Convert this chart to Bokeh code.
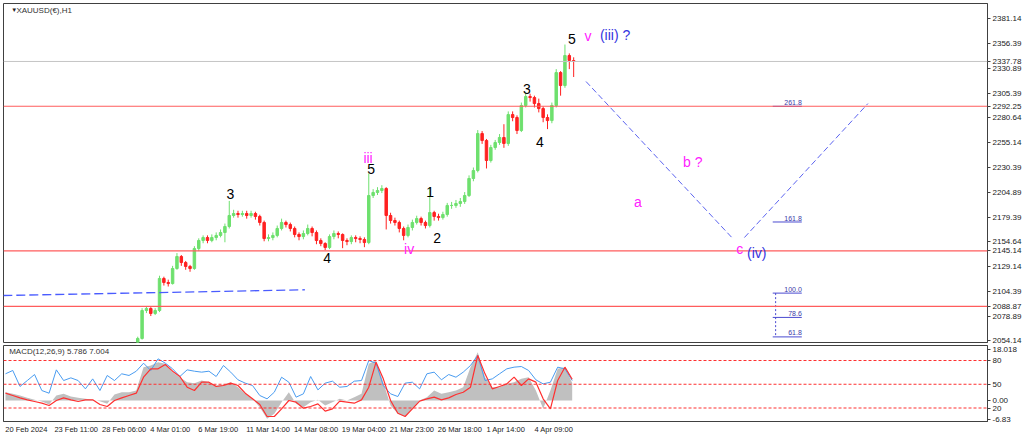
from bokeh.plotting import figure
from bokeh.layouts import column
from bokeh.models import (Range1d, LinearAxis, FixedTicker, PrintfTickFormatter,
                          Span, Label, ColumnDataSource)
from bokeh.embed import file_html
from bokeh.resources import INLINE

# ---------------- data ----------------
# H1 candles sampled every 6 bars, starting at bar 182 (bar 0 = 20 Feb 2024 00:00)
CANDLE_START = 182
CANDLE_STEP = 6
first_open = 2052.0
closes = [2056.2, 2084.6, 2086.7, 2081.6, 2084.6, 2117.2, 2113.1, 2112.0, 2127.3, 2139.5,
          2133.4, 2129.4, 2127.3, 2147.6, 2155.8, 2158.8, 2155.8, 2158.8, 2160.9, 2163.9,
          2170.0, 2181.2, 2183.2, 2182.2, 2183.2, 2181.2, 2183.2, 2180.2, 2174.1, 2157.8,
          2158.8, 2160.9, 2168.0, 2174.1, 2172.0, 2168.0, 2161.9, 2159.8, 2162.9, 2168.0,
          2163.9, 2155.8, 2152.7, 2148.7, 2159.8, 2162.9, 2161.9, 2155.8, 2154.7, 2158.8,
          2157.8, 2156.8, 2153.7, 2201.5, 2204.6, 2206.6, 2208.6, 2181.2, 2176.1, 2174.1,
          2168.0, 2160.9, 2169.0, 2174.1, 2178.1, 2174.1, 2171.0, 2184.2, 2180.2, 2179.1,
          2182.2, 2191.4, 2191.4, 2193.4, 2195.4, 2201.5, 2218.8, 2226.9, 2264.5, 2257.4,
          2237.1, 2250.3, 2255.4, 2260.5, 2254.4, 2283.8, 2280.8, 2267.6, 2293.0, 2302.1,
          2301.1, 2295.0, 2289.9, 2280.8, 2277.7, 2293.0, 2326.5, 2313.3, 2343.8, 2338.7,
          2337.8]
highs = [2058, 2087, 2089, 2088, 2087, 2120, 2119, 2116, 2130, 2143,
         2141, 2135, 2131, 2150, 2158, 2161, 2161, 2162, 2164, 2167,
         2173, 2196, 2187, 2186, 2186, 2186, 2186, 2185, 2182, 2176,
         2162, 2164, 2171, 2178, 2176, 2174, 2170, 2164, 2166, 2172,
         2170, 2166, 2158, 2154, 2162, 2166, 2165, 2163, 2158, 2161,
         2161, 2160, 2159, 2224, 2208, 2210, 2212, 2210, 2184, 2179,
         2176, 2170, 2172, 2177, 2181, 2180, 2176, 2210, 2186, 2183,
         2185, 2194, 2195, 2197, 2199, 2205, 2222, 2230, 2268, 2267,
         2259, 2253, 2258, 2264, 2274, 2287, 2287, 2283, 2296, 2306,
         2305, 2303, 2300, 2292, 2284, 2296, 2330, 2328, 2355, 2346,
         2342]
lows = [2050, 2055, 2082, 2079, 2080, 2083, 2110, 2109, 2111, 2126,
        2130, 2126, 2124, 2126, 2145, 2153, 2153, 2154, 2156, 2159,
        2154, 2168, 2179, 2179, 2180, 2178, 2179, 2177, 2171, 2155,
        2155, 2156, 2159, 2166, 2169, 2165, 2159, 2156, 2157, 2161,
        2160, 2152, 2150, 2146, 2147, 2157, 2158, 2148, 2151, 2152,
        2154, 2153, 2149, 2152, 2199, 2202, 2204, 2167, 2173, 2171,
        2164, 2156, 2159, 2166, 2172, 2171, 2168, 2169, 2176, 2176,
        2177, 2180, 2188, 2189, 2190, 2193, 2200, 2216, 2225, 2254,
        2229, 2235, 2248, 2253, 2250, 2252, 2277, 2264, 2266, 2291,
        2297, 2291, 2286, 2276, 2269, 2275, 2291, 2303, 2311, 2330,
        2322]

# MACD panel series sampled every 10 bars from bar 0
MACD_STEP = 10
macd_hist = [2.75, 2.21, 1.67, 0.90, 0.25, -0.30, -1.28, 1.67, 2.21, 1.34,
             0.90, 0.58, 0.25, -0.19, -1.06, 2.00, 2.75, 2.75, 3.30, 10.93,
             11.48, 12.57, 12.02, 9.30, 7.66, 6.03, 5.70, 6.57, 6.03, 4.94,
             5.26, 6.03, 4.39, 2.21, 0.58, -2.15, -5.97, -4.33, -0.52, 2.75,
             -1.06, -2.15, -0.52, 0.25, -1.60, -0.52, 0.58, 0.03, 1.12, 2.21,
             12.02, 13.11, 6.03, -1.60, -4.33, -5.20, -2.70, 0.03, 1.12, 3.30,
             2.21, 2.75, 3.30, 4.39, 10.93, 15.84, 7.66, 4.39, 4.39, 5.48,
             6.03, 7.12, 7.66, 3.30, -2.70, 3.30, 10.39, 10.93, 5.79]
macd_signal = [2.43, 1.67, 0.90, 0.25, -0.30, -0.84, -1.60, 0.03, 0.90, 0.25,
               -0.30, 0.25, 0.25, -1.28, -1.93, 0.03, 0.90, 1.67, 2.43, 7.66,
               10.39, 10.39, 11.80, 9.63, 7.88, 4.39, 3.30, 6.03, 6.03, 4.61,
               4.94, 5.70, 4.94, 2.43, 0.58, -1.28, -5.20, -5.20, -2.70, 0.03,
               -0.52, -2.47, -1.93, -1.06, -3.46, -2.70, -0.19, -0.52, -0.84, 0.25,
               4.39, 12.57, 7.12, 0.03, -4.11, -5.20, -2.70, -0.19, 0.58, 1.12,
               0.25, 0.90, 1.99, 2.75, 4.39, 14.75, 8.75, 3.85, 4.61, 5.48,
               7.66, 4.94, 7.12, 6.03, 0.58, -2.70, 6.57, 10.93, 7.00]
osc_line = [63.2, 67.4, 47.2, 54.7, 62.3, 42.1, 38.7, 68.2, 54.7, 58.1,
            54.7, 44.2, 56.8, 42.1, 61.1, 54.7, 63.2, 61.1, 66.5, 76.6,
            67.4, 82.1, 76.6, 69.5, 59.8, 68.2, 66.5, 65.3, 66.5, 59.8,
            73.7, 65.3, 55.6, 51.4, 48.4, 35.8, 31.6, 40.0, 58.9, 52.6,
            33.7, 37.9, 59.8, 42.9, 51.4, 53.9, 46.3, 47.2, 53.9, 54.7,
            80.0, 76.6, 48.4, 37.9, 34.5, 51.4, 52.6, 44.2, 63.2, 65.3,
            55.6, 62.3, 58.9, 65.3, 73.7, 86.3, 54.7, 56.8, 63.2, 69.5,
            71.6, 72.4, 67.4, 55.6, 50.5, 52.6, 71.6, 69.5, 54.7]
osc_levels = [80, 50, 20]
macd_scale_labels = ["18.018", "0.00", "-6.83"]

price_ticks = [2381.14, 2356.39, 2330.89, 2305.39, 2280.64, 2255.14, 2230.39,
               2204.89, 2179.39, 2154.64, 2129.14, 2104.39, 2078.89, 2054.14]
red_levels = [2292.25, 2145.14, 2088.87]
last_price = 2337.78

date_bars = [0, 66, 132, 198, 264, 330, 396, 462, 528, 594, 660, 726]
date_labels = ["20 Feb 2024", "23 Feb 11:00", "28 Feb 06:00", "4 Mar 01:00",
               "6 Mar 19:00", "11 Mar 14:00", "14 Mar 08:00", "19 Mar 04:00",
               "21 Mar 23:00", "26 Mar 18:00", "1 Apr 14:00", "4 Apr 09:00"]

trend_bars = [-3, 412]
trend_prices = [2099.9, 2105.7]
proj_a_bars = [799, 1001]
proj_a_prices = [2317.4, 2157.8]
proj_b_bars = [1017, 1187]
proj_b_prices = [2158.8, 2295.0]

fib_names = ["261.8", "161.8", "100.0", "78.6", "61.8"]
fib_prices = [2292.2, 2174.6, 2102.3, 2077.6, 2057.8]

# ---------------- styling constants ----------------
W = 1024
X0, X1 = -2.75, 1351.6
BARS_PER_PX = 1.375
MACD_LO, MACD_HI = -6.83, 18.018
OSC_LO, OSC_HI = 2.97, 98.95
UP, DOWN = "#6ee06e", "#ff2020"
MAG = "#ff22ff"
WAVEBLUE = "#3535e0"
FONT = "Liberation Sans"
AX = "#404040"

opens = [first_open] + closes[:-1]
bars = [CANDLE_START + CANDLE_STEP * i for i in range(len(closes))]
colors = [UP if c >= o else DOWN for o, c in zip(opens, closes)]
src = ColumnDataSource(dict(x=bars, h=highs, l=lows,
                            top=[max(o, c) for o, c in zip(opens, closes)],
                            bot=[min(o, c) for o, c in zip(opens, closes)],
                            color=colors))


def style_axis(a):
    a.major_label_text_font_size = "8px"
    a.major_label_text_font = FONT
    a.major_label_text_color = "#222222"
    a.major_tick_in = 0
    a.minor_tick_out = 0
    a.minor_tick_in = 0
    a.axis_line_color = AX
    a.major_tick_line_color = AX


p = figure(width=W, height=344, x_range=Range1d(X0, X1), y_range=Range1d(2052.1, 2396.7),
           output_backend="svg", toolbar_location=None, x_axis_location=None,
           y_axis_location="right", min_border_left=3, min_border_top=3,
           min_border_bottom=2, min_border_right=36)
p.grid.visible = False
p.outline_line_color = AX
yax = p.yaxis[0]
yax.ticker = FixedTicker(ticks=price_ticks + red_levels + [last_price])
yax.formatter = PrintfTickFormatter(format="%.2f")
style_axis(yax)
yax.major_tick_out = 3
yax.major_label_standoff = 2

# horizontal levels
p.add_layout(Span(location=last_price, dimension="width", line_color="#c4c4c4", line_width=1))
for lv in red_levels:
    p.add_layout(Span(location=lv, dimension="width", line_color="#ff5c5c", line_width=1.2))

# candles
p.segment(x0="x", y0="l", x1="x", y1="h", color="color", line_width=1, source=src)
p.vbar(x="x", width=3.4, top="top", bottom="bot", fill_color="color", line_color="color",
       source=src)

# trend / projection lines
p.line(trend_bars, trend_prices, line_color="#4a5cff", line_width=1.3, line_dash="9 4")
p.line(proj_a_bars, proj_a_prices, line_color="#5c64f0", line_width=1, line_dash="6 3")
p.line(proj_b_bars, proj_b_prices, line_color="#5c64f0", line_width=1, line_dash="6 3")

# fibonacci tool
p.segment(x0=[1056] * len(fib_prices), x1=[1096] * len(fib_prices), y0=fib_prices, y1=fib_prices,
          line_color="#4a4ad0", line_width=1)
p.segment(x0=[1060], x1=[1060], y0=[fib_prices[2]], y1=[fib_prices[4]],
          line_color="#4a4ad0", line_width=1, line_dash="2 2")
for name, pr in zip(fib_names, fib_prices):
    p.add_layout(Label(x=1096, y=pr + 1.5, text=name, text_align="right", text_baseline="bottom",
                       text_font=FONT, text_font_size="7px", text_color="#3a3aa8"))

# wave labels
waves = [("5", 779.6, 2361.1, "black"), ("v", 801.6, 2363.2, MAG), ("(iii) ?", 839, 2364.2, WAVEBLUE),
         ("3", 717.8, 2309.3, "black"), ("4", 735.6, 2256.4, "black"),
         ("b ?", 946, 2235.1, MAG), ("a", 870.4, 2195.4, MAG),
         ("c", 1010.6, 2147.6, MAG), ("(iv)", 1034, 2142.6, WAVEBLUE),
         ("1", 584.4, 2204.6, "black"), ("2", 594, 2158.8, "black"), ("iv", 555.5, 2147.6, MAG),
         ("5", 503.3, 2228.9, "black"), ("iii", 499, 2240.1, MAG),
         ("3", 309.4, 2203.5, "black"), ("4", 442.8, 2138.5, "black")]
for t, bx, py, col in waves:
    p.add_layout(Label(x=bx, y=py, text=t, text_align="center", text_baseline="middle",
                       text_font=FONT, text_font_size="14px", text_color=col))

# title
p.add_layout(Label(x=8, y=2389.6, text="\u25bc", text_baseline="middle", text_font=FONT,
                   text_font_size="6px", text_color="#222222"))
p.add_layout(Label(x=15, y=2389.6, text="XAUUSD(\u20ac),H1", text_baseline="middle",
                   text_font=FONT, text_font_size="8px", text_color="#333333"))

# ---------------- MACD panel ----------------
macd_bars = [MACD_STEP * i for i in range(len(macd_hist))]
p2 = figure(width=W, height=96, x_range=p.x_range, y_range=Range1d(MACD_LO, MACD_HI),
            output_backend="svg", toolbar_location=None, y_axis_location=None,
            min_border_left=3, min_border_top=1, min_border_bottom=19, min_border_right=36)
p2.extra_y_ranges = {"osc": Range1d(OSC_LO, OSC_HI)}
p2.grid.visible = False
p2.outline_line_color = AX

p2.varea(x=macd_bars, y1=[0] * len(macd_bars), y2=macd_hist, fill_color="#c0c0c0")
for lv in osc_levels:
    p2.add_layout(Span(location=lv, dimension="width", y_range_name="osc",
                       line_color="#ff3030", line_width=1, line_dash="3 2"))
p2.line(macd_bars, osc_line, y_range_name="osc", line_color="#4a9cf0", line_width=1)
p2.line(macd_bars, macd_signal, line_color="#ff3030", line_width=1.2)


def macd_to_osc(v):
    return OSC_LO + (v - MACD_LO) / (MACD_HI - MACD_LO) * (OSC_HI - OSC_LO)


# MACD scale labels sit just inside the panel edges (as MT4 draws them)
macd_label_pos = [macd_to_osc(16.7), macd_to_osc(0.0), macd_to_osc(-6.18)]
ax = LinearAxis(y_range_name="osc", ticker=FixedTicker(ticks=osc_levels + macd_label_pos))
ax.major_label_overrides = dict([(lv, str(lv)) for lv in osc_levels] +
                                list(zip(macd_label_pos, macd_scale_labels)))
style_axis(ax)
ax.major_tick_out = 3
ax.major_label_standoff = 2
p2.add_layout(ax, "right")

p2.add_layout(Label(x=5, y=16.06, text="MACD(12,26,9) 5.786 7.004", text_baseline="middle",
                    text_font=FONT, text_font_size="8px", text_color="#333333"))

# date axis: MT4 labels start at their bar, so place each label's centre half a width later
label_centres = [b + len(lab) * 1.9 * BARS_PER_PX for b, lab in zip(date_bars, date_labels)]
xa = p2.xaxis[0]
xa.ticker = FixedTicker(ticks=label_centres)
xa.major_label_overrides = {c: lab for c, lab in zip(label_centres, date_labels)}
style_axis(xa)
xa.major_label_text_font_size = "7.5px"
xa.major_tick_out = 0
xa.major_label_standoff = 3

layout = column(p, p2, spacing=0)
open("out.html", "w").write(file_html(layout, INLINE))
